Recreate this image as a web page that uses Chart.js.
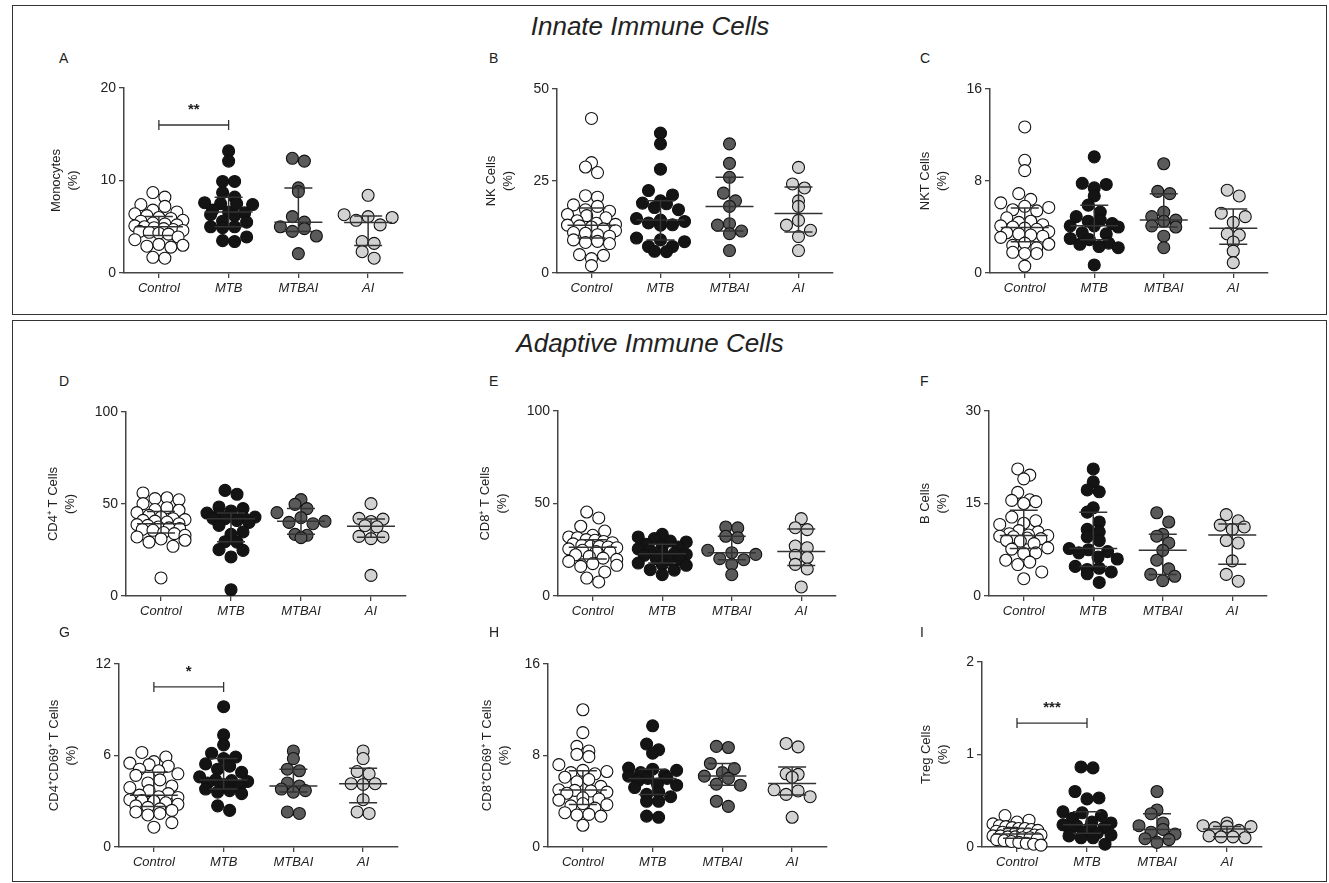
<!DOCTYPE html>
<html><head><meta charset="utf-8">
<script src="https://cdn.jsdelivr.net/npm/chart.js@4.4.1/dist/chart.umd.min.js"></script>
<style>
body{margin:0;background:#fff;width:1329px;height:883px;position:relative;overflow:hidden;font-family:"Liberation Sans",Arial,sans-serif;}
.box{position:absolute;border:1.5px solid #333;box-sizing:border-box;}
.head{position:absolute;left:0;width:1300px;text-align:center;font-style:italic;font-size:26px;color:#222;}
.lt{position:absolute;font-size:14px;color:#222;}
canvas{position:absolute;}
</style></head><body>
<div class="box" style="left:12px;top:5px;width:1315px;height:310px"></div>
<div class="box" style="left:12px;top:320px;width:1315px;height:562px"></div>
<div class="head" style="top:11px">Innate Immune Cells</div>
<div class="head" style="top:328px">Adaptive Immune Cells</div>
<script>
const categories = ['Control', 'MTB', 'MTBAI', 'AI'];

// A: Monocytes
const monoControl = [8.7, 8.2, 7.4, 7.2, 6.8, 6.6, 6.4, 6.2, 6.0, 5.9, 5.7, 5.6, 5.4, 5.3, 5.2, 5.1, 5.0, 4.9, 4.8, 4.7, 4.6, 4.5, 4.4, 4.3, 4.2, 3.9, 3.6, 3.1, 3.0, 2.9, 2.8, 1.7, 1.6];
const monoMTB = [13.2, 12.1, 9.9, 9.9, 8.7, 8.2, 7.6, 7.5, 7.5, 7.4, 6.8, 6.6, 6.5, 6.3, 6.2, 5.6, 5.5, 5.0, 5.0, 4.9, 3.9, 3.5, 3.4];
const monoMTBAI = [12.4, 12.1, 9.2, 8.8, 6.1, 5.5, 5.0, 4.8, 4.5, 4.0, 2.1];
const monoAI = [8.4, 6.3, 6.1, 6.0, 5.7, 5.2, 3.4, 3.2, 2.3, 1.6];
// B: NK cells
const nkControl = [42, 30, 28.8, 27.3, 21, 20.6, 18.5, 18.1, 17.2, 16.8, 15.9, 15.6, 15, 14.2, 13.5, 13.2, 13, 12.8, 12.5, 12, 11.5, 11, 10.8, 10.4, 10, 9, 8.6, 8.3, 8, 5, 4.8, 3.9, 2.0];
const nkMTB = [38, 35.1, 28.2, 22.4, 21.2, 19.6, 19.0, 18.8, 17.8, 17.2, 14.8, 14.4, 14.0, 13.6, 13.1, 13.0, 9.5, 9.0, 8.5, 7.2, 7.2, 5.9, 5.8];
const nkMTBAI = [35.1, 29.8, 26.0, 21.7, 19.6, 18.1, 13.4, 13.0, 11.4, 10.7, 6.1];
const nkAI = [28.7, 24.2, 23.1, 19.6, 18.1, 14.3, 13.0, 11.6, 9.9, 6.1];
// C: NKT cells
const nktControl = [12.7, 9.8, 8.9, 6.9, 6.4, 6.1, 5.8, 5.7, 5.5, 5.4, 4.8, 4.5, 4.4, 4.2, 4.1, 4.0, 3.9, 3.8, 3.6, 3.5, 3.4, 3.3, 3.2, 3.1, 2.6, 2.5, 2.4, 2.2, 1.8, 1.7, 1.7, 0.6];
const nktMTB = [10.1, 7.8, 7.7, 7.4, 6.7, 5.9, 5.3, 4.9, 4.6, 4.5, 4.3, 4.1, 4.1, 4.0, 3.5, 3.4, 3.0, 2.9, 2.6, 2.5, 2.3, 2.2, 0.7];
const nktMTBAI = [9.5, 7.1, 6.9, 5.3, 4.9, 4.6, 4.5, 4.1, 4.0, 3.2, 2.2];
const nktAI = [7.2, 6.7, 5.2, 4.9, 4.4, 3.4, 3.3, 2.7, 1.9, 0.9];
// D: CD4+ T cells
const cd4Control = [56, 53.4, 52.9, 52.3, 50.2, 48, 47, 46.6, 45.3, 43.8, 42.9, 42, 41.5, 41.1, 40.7, 40.2, 39.3, 38.8, 38.4, 37.5, 37, 36.6, 36.2, 35.7, 34.5, 33.9, 33, 32.1, 31, 30.3, 29.3, 27, 9.8];
const cd4MTB = [57.4, 55.3, 48.4, 47.5, 46.2, 45.1, 44.4, 43.5, 43, 42.9, 42.2, 42, 41, 40, 38.4, 34.8, 33.5, 29.5, 29.3, 25.2, 24.8, 21.2, 3.4];
const cd4MTBAI = [52.4, 49.8, 47.5, 45.3, 42.6, 40.6, 40.0, 39.3, 33.5, 33.0, 31.7];
const cd4AI = [50.2, 42.2, 41.8, 40.5, 38.2, 37.6, 32.4, 32.1, 31.2, 11.2];
// E: CD8+ T cells
const cd8Control = [45.4, 42.2, 37.7, 35.1, 32.8, 31.9, 31.5, 30.5, 30.1, 29.5, 28.8, 28.2, 27.4, 27.0, 26.8, 26.5, 26.1, 25.5, 24.7, 24.0, 23.8, 22.3, 21.4, 20.5, 19.8, 18.7, 17.5, 16.6, 16.0, 13.0, 9.7, 7.6];
const cd8MTB = [33.3, 31.9, 31.0, 29.7, 29.2, 28.0, 26.8, 26.5, 25.5, 24.7, 23.4, 22.9, 22.5, 22.0, 20.2, 19.6, 19.5, 17.8, 17.0, 16.6, 14.2, 14.0, 11.5];
const cd8MTBAI = [37.3, 36.8, 32.3, 31.5, 24.7, 23.4, 22.5, 20.2, 19.6, 17.1, 11.5];
const cd8AI = [41.8, 36.9, 35.9, 27.0, 26.1, 22.0, 20.8, 17.1, 14.6, 4.9];
// F: B cells
const bControl = [20.6, 19.6, 19.0, 16.8, 15.6, 15.5, 15.3, 15.0, 12.8, 12.2, 11.8, 11.6, 10.6, 10.4, 10.1, 9.9, 9.8, 9.7, 9.6, 9.4, 9.3, 9.0, 8.9, 8.5, 7.8, 7.6, 7.0, 6.9, 5.8, 5.5, 5.1, 3.9, 2.8];
const bMTB = [20.6, 18.5, 17.2, 16.9, 14.3, 13.6, 12.0, 10.8, 10.4, 9.6, 9.0, 7.7, 7.5, 7.2, 7.0, 6.3, 6.0, 4.8, 4.5, 4.3, 3.9, 3.6, 2.2];
const bMTBAI = [13.5, 12.0, 10.0, 9.7, 8.6, 7.4, 5.8, 4.4, 3.5, 3.2, 2.5];
const bAI = [13.2, 12.2, 11.5, 11.2, 10.8, 9.0, 8.6, 5.7, 3.5, 2.4];
// G: CD4+CD69+ T cells
const cd4cd69Control = [6.2, 5.9, 5.6, 5.5, 5.4, 5.3, 5.1, 5.0, 4.8, 4.7, 4.4, 4.2, 4.0, 3.9, 3.7, 3.5, 3.4, 3.3, 3.25, 3.1, 3.05, 3.0, 2.9, 2.8, 2.7, 2.6, 2.5, 2.4, 2.3, 2.2, 2.1, 1.6, 1.3];
const cd4cd69MTB = [9.2, 7.35, 6.7, 6.15, 5.9, 5.8, 5.45, 5.3, 5.1, 4.9, 4.6, 4.4, 4.35, 4.3, 4.2, 4.1, 4.0, 3.8, 3.7, 3.6, 3.5, 2.7, 2.4];
const cd4cd69MTBAI = [6.3, 5.8, 5.1, 5.0, 4.2, 4.0, 3.8, 3.7, 3.6, 2.3, 2.2];
const cd4cd69AI = [6.3, 5.8, 4.95, 4.8, 4.15, 4.15, 4.1, 3.1, 2.3, 2.2];
// H: CD8+CD69+ T cells
const cd8cd69Control = [12.0, 10.0, 8.8, 8.4, 8.1, 7.9, 7.2, 6.7, 6.6, 6.5, 6.4, 6.1, 5.9, 5.7, 5.3, 5.0, 4.95, 4.9, 4.8, 4.7, 4.3, 4.2, 4.1, 3.8, 3.7, 3.6, 3.4, 3.0, 2.85, 2.8, 2.7, 1.9];
const cd8cd69MTB = [10.6, 9.0, 8.5, 8.2, 6.9, 6.8, 6.7, 6.5, 6.3, 6.2, 6.0, 6.0, 5.8, 5.5, 5.4, 5.2, 4.8, 4.6, 4.4, 4.0, 4.0, 2.7, 2.6];
const cd8cd69MTBAI = [8.8, 8.7, 7.3, 6.85, 6.5, 6.2, 6.0, 5.5, 5.4, 4.0, 3.55];
const cd8cd69AI = [9.05, 8.75, 6.4, 6.35, 6.1, 5.0, 4.9, 4.6, 4.4, 2.6];
// I: Treg cells
const tregControl = [0.34, 0.29, 0.27, 0.25, 0.23, 0.22, 0.21, 0.2, 0.2, 0.19, 0.18, 0.17, 0.16, 0.15, 0.15, 0.14, 0.14, 0.13, 0.13, 0.12, 0.12, 0.11, 0.11, 0.1, 0.1, 0.09, 0.08, 0.07, 0.06, 0.05, 0.04, 0.03, 0.02];
const tregMTB = [0.865, 0.855, 0.6, 0.53, 0.52, 0.38, 0.37, 0.34, 0.31, 0.27, 0.26, 0.24, 0.23, 0.22, 0.21, 0.18, 0.16, 0.15, 0.13, 0.12, 0.1, 0.1, 0.03];
const tregMTBAI = [0.6, 0.4, 0.36, 0.26, 0.23, 0.19, 0.16, 0.14, 0.09, 0.08, 0.05];
const tregAI = [0.26, 0.23, 0.22, 0.22, 0.21, 0.18, 0.12, 0.11, 0.11, 0.10];

// y tick labels per panel
const monoTicks = [0, 10, 20], nkTicks = [0, 25, 50], nktTicks = [0, 8, 16];
const cd4Ticks = [0, 50, 100], cd8Ticks = [0, 50, 100], bTicks = [0, 15, 30];
const cd4cd69Ticks = [0, 6, 12], cd8cd69Ticks = [0, 8, 16], tregTicks = [0, 1, 2];

const FONT = '"Liberation Sans", Arial, Helvetica, sans-serif';
const fills = ['#ffffff', '#141414', '#5a5a5a', '#d2d2d2'];

const panels = [
  {letter:'A', lx:59, ly:50, rect:[124,88,279,185], title:['Monocytes','(%)'], toff:51, ticks:monoTicks, groups:[monoControl,monoMTB,monoMTBAI,monoAI], sig:{y:16, text:'**'}},
  {letter:'B', lx:489, ly:50, rect:[557,89,276,184], title:['NK Cells','(%)'], toff:49, ticks:nkTicks, groups:[nkControl,nkMTB,nkMTBAI,nkAI]},
  {letter:'C', lx:920, ly:50, rect:[990,89,278,184], title:['NKT Cells','(%)'], toff:48, ticks:nktTicks, groups:[nktControl,nktMTB,nktMTBAI,nktAI]},
  {letter:'D', lx:59, ly:373, rect:[126,412,280,184], title:['CD4\u207A T Cells','(%)'], toff:56, ticks:cd4Ticks, groups:[cd4Control,cd4MTB,cd4MTBAI,cd4AI]},
  {letter:'E', lx:489, ly:373, rect:[558,411,278,185], title:['CD8\u207A T Cells','(%)'], toff:56, ticks:cd8Ticks, groups:[cd8Control,cd8MTB,cd8MTBAI,cd8AI]},
  {letter:'F', lx:920, ly:373, rect:[989,411,278,185], title:['B Cells','(%)'], toff:47, ticks:bTicks, groups:[bControl,bMTB,bMTBAI,bAI]},
  {letter:'G', lx:59, ly:624, rect:[119,664,279,183], title:['CD4\u207ACD69\u207A T Cells','(%)'], toff:48, ticks:cd4cd69Ticks, groups:[cd4cd69Control,cd4cd69MTB,cd4cd69MTBAI,cd4cd69AI], sig:{y:10.5, text:'*'}},
  {letter:'H', lx:489, ly:624, rect:[548,664,279,183], title:['CD8\u207ACD69\u207A T Cells','(%)'], toff:44, ticks:cd8cd69Ticks, groups:[cd8cd69Control,cd8cd69MTB,cd8cd69MTBAI,cd8cd69AI]},
  {letter:'I', lx:920, ly:624, rect:[982,662,280,185], title:['Treg Cells','(%)'], toff:39, ticks:tregTicks, groups:[tregControl,tregMTB,tregMTBAI,tregAI], sig:{y:1.34, text:'***'}}
];

function pct(vals, p){
  const s = vals.slice().sort((a,b)=>a-b), n = s.length;
  const r = p*(n+1);
  if (r <= 1) return s[0];
  if (r >= n) return s[n-1];
  const f = Math.floor(r), d = r - f;
  return s[f-1] + d*(s[f]-s[f-1]);
}

// Prism-like scatter spread: bin points into rows (in pixel space), spread each row evenly
function spread(ypix, bottom, binH, gap, maxW){
  const bins = {};
  ypix.forEach((y,i)=>{const b = Math.floor((bottom - y)/binH); (bins[b] = bins[b] || []).push(i);});
  const off = new Array(ypix.length).fill(0);
  Object.keys(bins).forEach(b=>{
    const idx = bins[b].sort((a,c)=>ypix[a]-ypix[c]);
    const k = idx.length;
    if (k === 1) { off[idx[0]] = 0; return; }
    const sp = Math.min(gap, 2*maxW/(k-1));
    const pos = [];
    for (let j=0;j<k;j++) pos.push((j-(k-1)/2)*sp);
    const order = [];
    for (let j=0;j<k;j+=2) order.push(j);
    for (let j=1;j<k;j+=2) order.push(j);
    idx.forEach((id,m)=>{ off[id] = pos[order[m]]; });
  });
  return off;
}

const overlay = {
  id:'overlay',
  afterDatasetsDraw(chart){
    const p = chart.options.plugins.overlay.panel;
    const ctx = chart.ctx, xs = chart.scales.x, ys = chart.scales.y, ca = chart.chartArea;
    ctx.save();
    ctx.strokeStyle = '#333'; ctx.lineWidth = 1.5;
    p.groups.forEach((g,i)=>{
      const cx = xs.getPixelForValue(i);
      const med = ys.getPixelForValue(pct(g,0.5));
      const q1 = ys.getPixelForValue(pct(g,0.25));
      const q3 = ys.getPixelForValue(pct(g,0.75));
      ctx.beginPath();
      ctx.moveTo(cx-24, med); ctx.lineTo(cx+24, med);
      ctx.moveTo(cx, q1); ctx.lineTo(cx, q3);
      ctx.moveTo(cx-14, q1); ctx.lineTo(cx+14, q1);
      ctx.moveTo(cx-14, q3); ctx.lineTo(cx+14, q3);
      ctx.stroke();
    });
    if (p.sig){
      const x0 = xs.getPixelForValue(0), x1 = xs.getPixelForValue(1), y = ys.getPixelForValue(p.sig.y);
      ctx.lineWidth = 1.3; ctx.strokeStyle = '#333';
      ctx.beginPath();
      ctx.moveTo(x0, y); ctx.lineTo(x1, y);
      ctx.moveTo(x0, y-5); ctx.lineTo(x0, y+5);
      ctx.moveTo(x1, y-5); ctx.lineTo(x1, y+5);
      ctx.stroke();
      ctx.fillStyle = '#222'; ctx.font = 'bold 15px ' + FONT;
      ctx.textAlign = 'center'; ctx.textBaseline = 'middle';
      ctx.fillText(p.sig.text, (x0+x1)/2, y-15);
    }
    ctx.fillStyle = '#222'; ctx.font = '13px ' + FONT;
    ctx.textAlign = 'center'; ctx.textBaseline = 'middle';
    const cy = (ca.top + ca.bottom)/2;
    ctx.translate(ca.left - p.toff, cy); ctx.rotate(-Math.PI/2);
    ctx.fillText(p.title[1], 0, 0);
    ctx.fillText(p.title[0], 0, -17);
    ctx.restore();
  }
};

const LEFTW = 100, BOTH = 40, PADT = 20, PADR = 10;

panels.forEach(p=>{
  const [L,T,W,H] = p.rect;
  const lt = document.createElement('div');
  lt.className = 'lt'; lt.style.left = p.lx+'px'; lt.style.top = p.ly+'px'; lt.textContent = p.letter;
  document.body.appendChild(lt);
  const cv = document.createElement('canvas');
  cv.width = W + LEFTW + PADR; cv.height = H + PADT + BOTH;
  cv.style.left = (L - LEFTW) + 'px'; cv.style.top = (T - PADT) + 'px';
  cv.style.width = cv.width + 'px'; cv.style.height = cv.height + 'px';
  document.body.appendChild(cv);
  const ymax = p.ticks[p.ticks.length-1];
  const chart = new Chart(cv, {
    type:'scatter',
    data:{datasets: p.groups.map((g,i)=>({
      label: categories[i],
      data: g.map(v=>({x:i, y:v})),
      backgroundColor: fills[i], borderColor:'#111', borderWidth:1.1,
      pointRadius:6, pointHoverRadius:6, clip:false
    }))},
    options:{
      responsive:false, animation:false, devicePixelRatio:1, events:[],
      layout:{padding:{left:0, top:PADT, right:PADR, bottom:0}},
      plugins:{legend:{display:false}, tooltip:{enabled:false}, overlay:{panel:p}},
      scales:{
        x:{type:'linear', min:-0.5, max:3.5,
          afterBuildTicks:s=>{s.ticks = categories.map((c,i)=>({value:i}));},
          afterFit:s=>{s.height = BOTH;},
          ticks:{callback:(v,i)=>categories[i], color:'#222', padding:3, maxRotation:0, autoSkip:false,
            font:{size:13, style:'italic', family:FONT}},
          grid:{drawOnChartArea:false, drawTicks:true, tickLength:5, color:'#444', lineWidth:1.3},
          border:{color:'#444', width:1.5}},
        y:{type:'linear', min:0, max:ymax,
          afterBuildTicks:s=>{s.ticks = p.ticks.map(v=>({value:v}));},
          afterFit:s=>{s.width = LEFTW;},
          ticks:{color:'#222', padding:3, font:{size:14, family:FONT}},
          grid:{drawOnChartArea:false, drawTicks:true, tickLength:5, color:'#444', lineWidth:1.3},
          border:{color:'#444', width:1.5}}
      }
    },
    plugins:[overlay]
  });
  const xs = chart.scales.x, ysc = chart.scales.y;
  const pxX = xs.getPixelForValue(1) - xs.getPixelForValue(0);
  const bottom = ysc.getPixelForValue(0);
  chart.data.datasets.forEach((ds,i)=>{
    const g = p.groups[i];
    const off = spread(g.map(v=>ysc.getPixelForValue(v)), bottom, 12, 12, 24);
    ds.data = g.map((v,k)=>({x: i + off[k]/pxX, y: v}));
  });
  chart.update('none');
});
</script>
</body></html>
